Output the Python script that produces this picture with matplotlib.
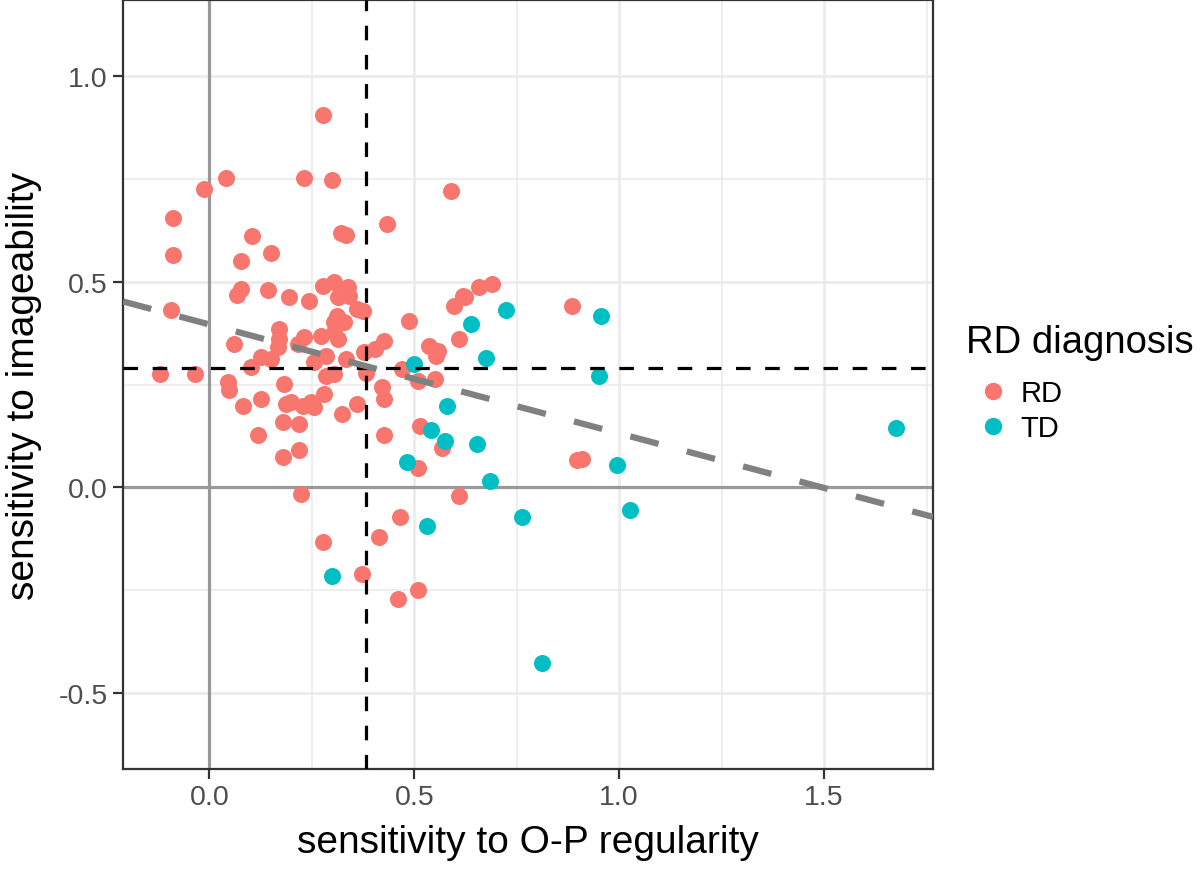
import numpy as np
import matplotlib
matplotlib.use("Agg")
import matplotlib.pyplot as plt
from matplotlib.lines import Line2D

# Data
# RD group: (sensitivity to O-P regularity, sensitivity to imageability)
rd_x = [0.278, 0.041, 0.232, 0.300, -0.013, 0.589, -0.089, 0.434, 0.322, 0.334,
        0.104, -0.089, 0.078, 0.151, -0.094, 0.078, 0.068, 0.144, 0.195, 0.244,
        0.278, 0.305, 0.339, 0.341, 0.315, 0.376, 0.359, 0.312, 0.305, 0.329,
        0.305, 0.315, 0.273, 0.232, 0.217, 0.170, 0.170, 0.168, 0.060, 0.151,
        0.126, 0.102, 0.256, 0.285, 0.334, 0.378, 0.403, 0.427, 0.046, 0.048,
        0.183, 0.285, 0.305, 0.383, 0.280, 0.126, 0.200, 0.249, 0.420, 0.427,
        0.082, -0.121, -0.035, 0.486, 0.596, 0.620, 0.609, 0.537, 0.559, 0.554,
        0.469, 0.510, 0.550, 0.659, 0.689, 0.623, 0.884, 0.188, 0.229, 0.256,
        0.180, 0.219, 0.119, 0.219, 0.180, 0.224, 0.278, 0.324, 0.359, 0.425,
        0.513, 0.567, 0.510, 0.609, 0.464, 0.415, 0.373, 0.508, 0.461, 0.896,
        0.909]
rd_y = [0.905, 0.752, 0.752, 0.747, 0.725, 0.721, 0.655, 0.640, 0.618, 0.613,
        0.611, 0.565, 0.550, 0.570, 0.431, 0.482, 0.468, 0.480, 0.463, 0.453,
        0.490, 0.499, 0.487, 0.465, 0.463, 0.429, 0.434, 0.417, 0.402, 0.402,
        0.378, 0.361, 0.368, 0.366, 0.349, 0.385, 0.361, 0.341, 0.349, 0.312,
        0.317, 0.293, 0.305, 0.319, 0.312, 0.329, 0.336, 0.356, 0.256, 0.237,
        0.251, 0.271, 0.276, 0.278, 0.227, 0.215, 0.207, 0.207, 0.244, 0.215,
        0.198, 0.276, 0.276, 0.405, 0.441, 0.465, 0.361, 0.344, 0.332, 0.319,
        0.288, 0.259, 0.264, 0.487, 0.495, 0.463, 0.441, 0.203, 0.198, 0.195,
        0.159, 0.154, 0.127, 0.091, 0.074, -0.016, -0.133, 0.178, 0.203, 0.127,
        0.150, 0.096, 0.047, -0.021, -0.072, -0.121, -0.211, -0.250, -0.272, 0.066,
        0.069]

# TD group
td_x = [0.638, 0.723, 0.674, 0.500, 0.955, 0.950, 0.579, 0.542, 0.574, 0.652,
        0.481, 0.684, 0.532, 0.300, 0.762, 0.994, 1.026, 0.811, 1.676]
td_y = [0.397, 0.431, 0.314, 0.300, 0.417, 0.271, 0.198, 0.139, 0.113, 0.105,
        0.062, 0.015, -0.094, -0.216, -0.071, 0.054, -0.055, -0.427, 0.145]

groups = ["RD", "TD"]
colors = ["#F8766D", "#00BFC4"]

# Reference lines
cut_x = 0.383
cut_y = 0.290
fit_intercept = 0.396
fit_slope = -0.265
y_limits = (-0.6, 1.1)

plt.rcParams["font.family"] = ["Liberation Sans", "DejaVu Sans"]
plt.rcParams["lines.scale_dashes"] = False

W, H = 1200, 870
fig = plt.figure(figsize=(W / 100, H / 100), dpi=100)
ax = fig.add_axes([123 / W, 1 - 770 / H, 810 / W, 769 / H])

# Grid (theme_bw), ticks set before the limits so they don't widen the view
ax.set_xticks([0.0, 0.5, 1.0, 1.5])
ax.set_yticks([-0.5, 0.0, 0.5, 1.0])
ax.set_xticks([0.25, 0.75, 1.25, 1.75], minor=True)
ax.set_yticks([-0.25, 0.25, 0.75], minor=True)
ax.grid(which="major", color="#EBEBEB", linewidth=1.9)
ax.grid(which="minor", color="#EBEBEB", linewidth=1.2)
ax.set_axisbelow(True)

# ggplot-like 5% expansion of the limits
all_x = np.array(rd_x + td_x)
x_lo, x_hi = all_x.min(), all_x.max()
x_pad = 0.05 * (x_hi - x_lo)
y_pad = 0.05 * (y_limits[1] - y_limits[0])
ax.set_xlim(x_lo - x_pad, x_hi + x_pad)
ax.set_ylim(y_limits[0] - y_pad, y_limits[1] + y_pad)

# Zero lines
ax.axhline(0, color="#999999", linewidth=2.3, zorder=1)
ax.axvline(0, color="#999999", linewidth=2.3, zorder=1)

# Points
ax.scatter(rd_x, rd_y, s=150, color=colors[0], linewidths=0, zorder=2)
ax.scatter(td_x, td_y, s=150, color=colors[1], linewidths=0, zorder=2)

# Cut-off lines and regression fit
ax.axvline(cut_x, color="black", linewidth=2.3, dashes=(10.5, 10.5), zorder=3)
ax.axhline(cut_y, color="black", linewidth=2.3, dashes=(10.5, 10.5), zorder=3)
ax.axline((0, fit_intercept), slope=fit_slope, color="#808080", linewidth=4.5,
          dashes=(21, 21), zorder=3)

# Axes styling
for side in ax.spines.values():
    side.set_color("#333333")
    side.set_linewidth(1.6)
ax.tick_params(which="major", length=7, width=1.6, color="#333333",
               labelsize=20.5, labelcolor="#4D4D4D", pad=4)
ax.tick_params(which="minor", length=0)
ax.set_xticklabels(["0.0", "0.5", "1.0", "1.5"])
ax.set_yticklabels(["-0.5", "0.0", "0.5", "1.0"])

ax.set_xlabel("sensitivity to O-P regularity", fontsize=28, labelpad=10)
ax.set_ylabel("sensitivity to imageability", fontsize=28, labelpad=12)

# Legend: title drawn on its own, keys below it
fig.text(966 / W, 1 - 343 / H, "RD diagnosis", fontsize=27.5, va="center", ha="left")
handles = [Line2D([], [], linestyle="none", marker="o", markersize=12.5,
                  markeredgewidth=0, color=c) for c in colors]
leg = ax.legend(handles, groups, loc="upper left",
                bbox_to_anchor=(968 / W, 1 - 380 / H),
                bbox_transform=fig.transFigure, frameon=False,
                fontsize=21, borderpad=0, borderaxespad=0, handlelength=1.7,
                handletextpad=0.1, labelspacing=0.23)

fig.savefig("out.png", dpi=100)
